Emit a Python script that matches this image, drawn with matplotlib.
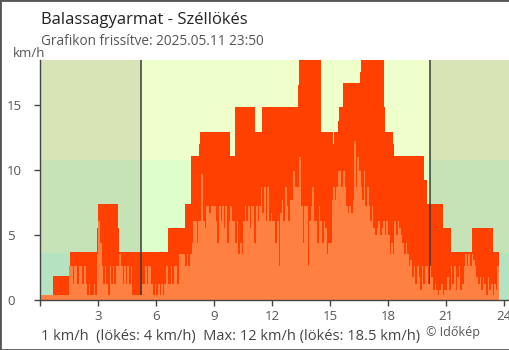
import matplotlib

matplotlib.use("Agg")
import matplotlib.pyplot as plt
import numpy as np
from matplotlib.patches import Rectangle

plt.rcParams["font.family"] = ["Open Sans", "DejaVu Sans"]

TITLE = "Balassagyarmat - Széllökés"
SUBTITLE = "Grafikon frissítve: 2025.05.11 23:50"
FOOTER = "1 km/h  (lökés: 4 km/h)  Max: 12 km/h (lökés: 18.5 km/h)"
CREDIT = "© Időkép"
UNIT = "km/h"

HOUR_TICKS = [0, 3, 6, 9, 12, 15, 18, 21, 24]
HOUR_LABELS = ["", "3", "6", "9", "12", "15", "18", "21", "24"]
SPEED_TICKS = [0, 5, 10, 15]

# sunrise / sunset (hours)
SUNRISE = 5.23
SUNSET = 20.18

# background wind bands (km/h)
BAND_LIMITS = [0, 3.6, 10.8, 18.46]
DAY_COLORS = ["#c8f2d2", "#ddffcc", "#eeffcc"]
NIGHT_COLORS = ["#b5e3c2", "#c5e3b6", "#d8e3b6"]

GUST_COLOR = "#ff4000"
WIND_COLOR = "#ff8040"

# gusts: plateaus between consecutive edges (hours)
GUST_EDGES = [0.66, 1.53, 2.91, 2.96, 3.99, 4.07, 6.62, 7.49, 7.80, 8.21, 8.26, 9.82,
              10.08, 11.11, 11.49, 13.36, 13.41, 14.53, 15.13, 15.20, 15.43, 15.48,
              15.67, 16.55, 16.60, 17.79, 17.85, 18.26, 18.31, 19.87, 20.00, 20.83,
              21.27, 22.34, 23.43, 23.74]
GUST_KMH = [1.85, 3.7, 5.56, 7.41, 5.56, 3.7, 5.56, 7.41, 11.11, 12.0, 12.96,
            11.11, 14.82, 12.96, 14.82, 16.5, 18.52, 12.96, 12.0, 12.96, 13.8,
            14.82, 16.67, 17.5, 18.52, 14.82, 12.96, 12.0, 11.11, 9.26, 7.41,
            5.56, 3.7, 5.56, 3.7]

# mean wind, 5 minute samples from 00:00 (one row per hour)
WIND_STEP_MIN = 5
WIND_KMH = [
    0.4, 0.4, 0.4, 0.4, 0.4, 0.4, 0.4, 0.4, 0.4, 0.4, 0.4, 0.4,
    0.4, 0.4, 0.4, 0.4, 0.4, 0.4, 2.6, 2.6, 1.2, 2.6, 2.6, 1.2,
    2.6, 2.6, 1.2, 2.6, 1.2, 0.4, 1.2, 0.4, 0.4, 1.2, 0.4, 3.5,
    6.1, 4.4, 2.6, 1.2, 2.6, 1.2, 0.4, 2.6, 1.2, 2.6, 1.2, 2.6,
    2.6, 3.5, 2.6, 1.2, 2.6, 1.2, 2.6, 1.2, 2.6, 0.4, 0.4, 0.4,
    0.4, 0.4, 0.4, 1.2, 1.2, 2.6, 1.2, 2.6, 2.6, 1.2, 0.4, 1.2,
    0.4, 1.2, 0.4, 1.2, 0.4, 1.2, 2.6, 1.2, 1.2, 2.6, 1.2, 2.6,
    2.6, 1.2, 3.5, 3.5, 3.5, 3.5, 2.6, 3.5, 2.6, 3.5, 4.4, 6.1,
    6.1, 4.4, 6.1, 6.1, 9.7, 6.1, 5.5, 7.2, 7.2, 6.7, 7.2, 7.2,
    7.2, 6.1, 4.4, 7.2, 6.1, 7.2, 5.5, 7.2, 4.4, 6.1, 7.2, 6.1,
    6.1, 4.4, 6.1, 3.5, 4.4, 3.5, 6.1, 7.2, 6.1, 7.2, 5.5, 7.2,
    7.2, 4.4, 7.2, 6.1, 7.2, 8.7, 6.7, 8.7, 6.1, 8.7, 6.1, 6.7,
    6.1, 6.1, 4.4, 6.1, 2.6, 6.7, 7.7, 6.1, 8.7, 7.2, 6.1, 7.7,
    7.7, 9.9, 8.7, 8.7, 8.7, 11.0, 7.2, 4.4, 7.2, 7.2, 2.6, 6.1,
    7.2, 8.7, 6.1, 6.1, 4.4, 7.2, 6.1, 4.4, 6.1, 5.5, 3.5, 4.4,
    4.4, 7.7, 8.7, 7.7, 8.7, 9.9, 9.9, 8.7, 9.9, 8.7, 7.2, 6.7,
    7.2, 6.7, 7.7, 12.2, 8.7, 11.0, 9.9, 8.7, 7.7, 9.9, 7.2, 8.7,
    7.2, 6.1, 7.2, 5.5, 5.0, 5.5, 6.1, 5.0, 5.5, 6.1, 5.0, 6.1,
    5.0, 3.5, 4.4, 3.5, 6.1, 5.0, 6.1, 5.5, 5.0, 4.4, 3.5, 4.4,
    3.5, 2.6, 3.1, 1.8, 2.6, 1.2, 2.6, 1.8, 0.8, 2.6, 1.2, 2.6,
    2.6, 1.2, 2.6, 1.8, 0.8, 1.2, 0.8, 0.4, 0.8, 1.2, 0.4, 0.8,
    0.8, 1.8, 0.8, 2.6, 1.2, 2.6, 0.8, 1.8, 2.6, 0.8, 1.2, 2.6,
    3.5, 2.6, 3.5, 2.6, 3.5, 3.1, 2.6, 1.8, 1.2, 1.8, 0.8, 1.8,
    1.2, 0.4, 1.8, 0.8, 1.2, 0.4, 1.2, 0.8, 2.6,
]

X_MAX = 24.27

fig = plt.figure(figsize=(5.1, 3.5), dpi=100)
ax = fig.add_axes([40.5 / 510, 50 / 350, (509 - 40.5) / 510, 240 / 350])
ax.set_xlim(0, X_MAX)
ax.set_ylim(BAND_LIMITS[0], BAND_LIMITS[-1])

for lo, hi, day, night in zip(BAND_LIMITS[:-1], BAND_LIMITS[1:], DAY_COLORS, NIGHT_COLORS):
    ax.add_patch(Rectangle((0, lo), X_MAX, hi - lo, color=day, lw=0, zorder=0))
    ax.add_patch(Rectangle((0, lo), SUNRISE, hi - lo, color=night, lw=0, zorder=0.5))
    ax.add_patch(Rectangle((SUNSET, lo), X_MAX - SUNSET, hi - lo, color=night, lw=0, zorder=0.5))

ax.stairs(GUST_KMH, GUST_EDGES, fill=True, color=GUST_COLOR, lw=0, zorder=2)
for hour in (SUNRISE, SUNSET):
    ax.axvline(hour, color="#3a3a3a", lw=1.1, zorder=3)
wind_edges = np.arange(len(WIND_KMH) + 1) * WIND_STEP_MIN / 60
ax.stairs(WIND_KMH, wind_edges, fill=True, color=WIND_COLOR, lw=0, zorder=4)

for side in ("top", "right"):
    ax.spines[side].set_visible(False)
for side in ("left", "bottom"):
    ax.spines[side].set_color("#444444")
    ax.spines[side].set_linewidth(1.0)
    ax.spines[side].set_zorder(5)

ax.set_xticks(HOUR_TICKS, HOUR_LABELS)
ax.set_yticks(SPEED_TICKS, [str(v) for v in SPEED_TICKS])
ax.tick_params(axis="both", colors="#444444", labelcolor="#555555", labelsize=9.5,
               length=4.6, width=1.0)
ax.tick_params(axis="x", pad=2.5)
ax.tick_params(axis="y", pad=19.5)
for label in ax.get_yticklabels():
    label.set_horizontalalignment("left")

fig.text(41 / 510, 1 - 24 / 350, TITLE, fontsize=12, color="#222222", va="baseline")
fig.text(41 / 510, 1 - 45 / 350, SUBTITLE, fontsize=9.8, color="#555555", va="baseline")
fig.text(12.5 / 510, 1 - 57 / 350, UNIT, fontsize=9.5, color="#555555", va="baseline")
fig.text(41 / 510, 1 - 340 / 350, FOOTER, fontsize=10.5, color="#444444", va="baseline")
fig.text(426 / 510, 1 - 336 / 350, CREDIT, fontsize=9, color="#555555", va="baseline")

fig.patches.append(Rectangle((0, 0), 1, 1, transform=fig.transFigure, fill=False,
                             edgecolor="#555555", lw=2))

fig.savefig("out.png", dpi=100)
plt.close(fig)
